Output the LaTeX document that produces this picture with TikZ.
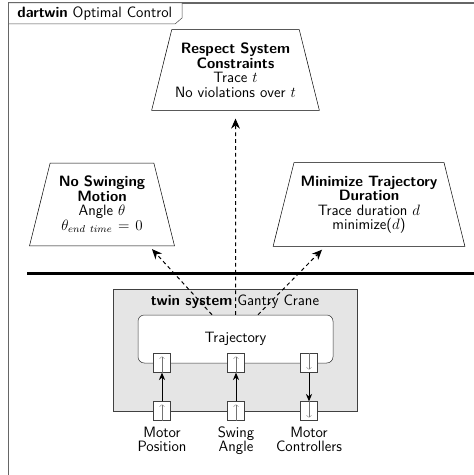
\documentclass[tikz,border=0pt]{standalone}
\usepackage{amsmath, amssymb}
\usepackage{tikz}
\usetikzlibrary{shapes.geometric, arrows.meta, calc, positioning}
\renewcommand{\familydefault}{\sfdefault}

\begin{document}
\begin{tikzpicture}[x=0.8pt, y=-0.8pt,
    every node/.style={font=\fontsize{12}{11.6}\selectfont},
    goal/.style={trapezium, trapezium angle=76, draw, fill=white, align=center, inner xsep=0pt, inner ysep=10.5pt},
    port/.style={rectangle, draw=black!75, fill=white, minimum width=13.6pt, minimum height=15pt, inner sep=0pt},
    portlabel/.style={below=1.5pt of #1, align=center, font=\fontsize{12}{11.2}\selectfont},
    flow/.style={-{Stealth[length=6pt, width=5pt]}, thick},
    link/.style={-{Stealth[length=8pt, width=7pt]}, thick, dash pattern=on 3pt off 2.5pt}]

    % Page size and outer frame
    \useasboundingbox (0,0) rectangle (474,475);
    \clip (0,0) rectangle (474,475);
    \draw[black!60, line width=1pt] (8.5,3) rectangle (490,490);
    \draw[black!70, fill=white] (8.5,3) -- (182,3) -- (182,18) -- (175,24) -- (8.5,24) -- cycle;
    \node[anchor=west] (frameTitle) at (13,13.5) {\textbf{dartwin} Optimal Control};

    % Goals
    \node[goal, text width=104pt, inner xsep=-1pt] (Constraints) at (235.5,70)
        {\textbf{Respect System}\\\textbf{Constraints}\\Trace $t$\\No violations over $t$};
    \node[goal, text width=83pt] (Swinging) at (102,204.5)
        {\textbf{No Swinging}\\\textbf{Motion}\\Angle $\theta$\\$\theta_{end\ time}=0$};
    \node[goal, text width=120pt] (Duration) at (369,204.5)
        {\textbf{Minimize Trajectory}\\\textbf{Duration}\\Trace duration $d$\\minimize($d$)};

    % Separator
    \draw[line width=2.4pt] (27,273) -- (480,273);

    % Twin system
    \node[draw=black!75, fill=gray!20, minimum width=195.2pt, minimum height=97.6pt, inner sep=0pt] (Crane) at (235,350) {};
    \node (CraneTitle) at (235,302) {\textbf{twin system} Gantry Crane};
    \node[draw=black!80, fill=white, rounded corners=5pt, minimum width=156pt, minimum height=38.4pt] (Trajectory) at (235.5,339) {Trajectory};

    % Ports
    \foreach \n/\x in {Pos/162, Ang/236, Ctl/309} {
        \node[port] (\n T) at (\x,363) {};
        \node[port] (\n B) at (\x,411) {};
    }
    \foreach \n in {PosT, PosB, AngT, AngB}
        \draw[black!55, very thin, -{To[length=2pt]}] (\n.south) -- ($(\n.north)+(0,3)$);
    \foreach \n in {CtlT, CtlB}
        \draw[black!55, very thin, -{To[length=2pt]}] (\n.north) -- ($(\n.south)+(0,-3)$);

    % Port labels
    \node[portlabel=PosB] (PosLabel) {Motor\\Position};
    \node[portlabel=AngB] (AngLabel) {Swing\\Angle};
    \node[portlabel=CtlB] (CtlLabel) {Motor\\Controllers};

    % Flows
    \draw[flow] (PosB) -- (PosT);
    \draw[flow] (AngB) -- (AngT);
    \draw[flow] (CtlT) -- (CtlB);

    % Goal links
    \coordinate (FromL) at ($(Trajectory.north)+(-23.5,0)$);
    \coordinate (FromR) at ($(Trajectory.north)+(22.5,0)$);
    \coordinate (ToL) at ($(Swinging.south)+(50,3)$);
    \coordinate (ToR) at ($(Duration.south)+(-47,3)$);
    \coordinate (ToC) at ($(Constraints.south)+(0,8)$);
    \draw[link] (Trajectory.north) -- (ToC);
    \draw[link] (FromL) -- (ToL);
    \draw[link] (FromR) -- (ToR);

\end{tikzpicture}
\end{document}
